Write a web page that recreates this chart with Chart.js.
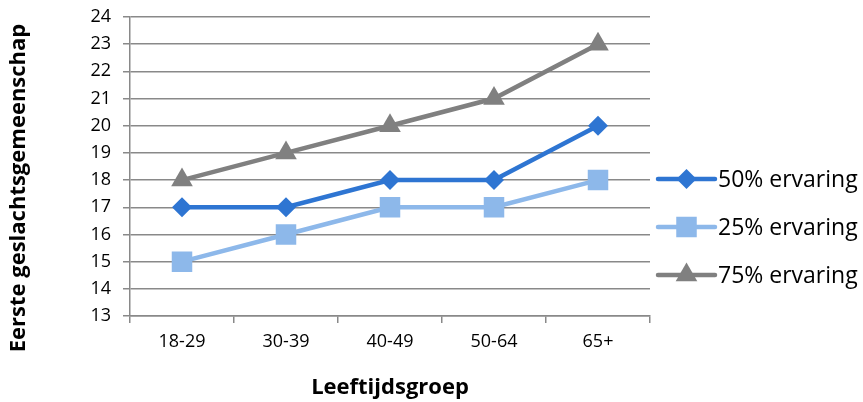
<!DOCTYPE html>
<html>
<head>
<meta charset="utf-8">
<script src="https://cdn.jsdelivr.net/npm/chart.js@4.4.1/dist/chart.umd.min.js"></script>
<style>
html,body{margin:0;padding:0;background:#fff;}
canvas{display:block;}
</style>
</head>
<body>
<canvas id="c" width="863" height="402"></canvas>
<script>
const categories = ['18-29', '30-39', '40-49', '50-64', '65+'];
const seriesNames = ['50% ervaring', '25% ervaring', '75% ervaring'];
const series50 = [17, 17, 18, 18, 20];
const series25 = [15, 16, 17, 17, 18];
const series75 = [18, 19, 20, 21, 23];
const yMin = 13, yMax = 24;
const xTitle = 'Leeftijdsgroep';
const yTitle = 'Eerste geslachtsgemeenschap';

const colors = ['#2E75D2', '#8DB8EA', '#808080'];
const styles = [
  {pointStyle: 'rectRot', radius: 10},
  {pointStyle: 'rect', radius: 14.5},
  {pointStyle: 'triangle', radius: 12.5}
];
const FONT = '"Open Sans", "Noto Sans", sans-serif';
const gridColor = '#898989';

function drawMarker(ctx, style, x, y) {
  const r = style.radius;
  ctx.beginPath();
  if (style.pointStyle === 'rectRot') {
    ctx.moveTo(x, y - r); ctx.lineTo(x + r, y); ctx.lineTo(x, y + r); ctx.lineTo(x - r, y);
  } else if (style.pointStyle === 'rect') {
    const s = Math.SQRT1_2 * r;
    ctx.rect(x - s, y - s, 2 * s, 2 * s);
  } else {
    const a = 2 * Math.PI / 3;
    ctx.moveTo(x, y - r);
    ctx.lineTo(x + Math.sin(a) * r, y - Math.cos(a) * r);
    ctx.lineTo(x + Math.sin(2 * a) * r, y - Math.cos(2 * a) * r);
  }
  ctx.closePath();
  ctx.fill();
}

const overlay = {
  id: 'overlay',
  afterDraw(chart) {
    const ctx = chart.ctx;
    const ca = chart.chartArea;
    ctx.save();
    // legend
    const legX0 = ca.right + 8, legX1 = ca.right + 65;
    const legY0 = 179, legStep = 48;
    chart.data.datasets.forEach((ds, i) => {
      const y = legY0 + i * legStep;
      ctx.strokeStyle = ds.borderColor;
      ctx.fillStyle = ds.borderColor;
      ctx.lineWidth = 4.5;
      ctx.lineCap = 'round';
      ctx.beginPath();
      ctx.moveTo(legX0, y); ctx.lineTo(legX1, y);
      ctx.stroke();
      drawMarker(ctx, styles[i], (legX0 + legX1) / 2, y);
      ctx.fillStyle = '#000';
      ctx.font = '23px ' + FONT;
      ctx.textAlign = 'left';
      ctx.textBaseline = 'middle';
      ctx.fillText(ds.label, legX1 + 3, y + 1);
    });
    // axis titles
    ctx.fillStyle = '#000';
    ctx.font = 'bold 22px ' + FONT;
    ctx.textAlign = 'center';
    ctx.textBaseline = 'middle';
    ctx.fillText(xTitle, (ca.left + ca.right) / 2, 388);
    ctx.translate(19, 188);
    ctx.rotate(-Math.PI / 2);
    ctx.fillText(yTitle, 0, 0);
    ctx.restore();
  }
};

const datasets = [series50, series25, series75].map((d, i) => ({
  label: seriesNames[i],
  data: d,
  borderColor: colors[i],
  backgroundColor: colors[i],
  borderWidth: 4.5,
  pointStyle: styles[i].pointStyle,
  pointRadius: styles[i].radius,
  pointHoverRadius: styles[i].radius,
  pointBorderWidth: 0,
  pointBackgroundColor: colors[i],
  tension: 0
}));

new Chart(document.getElementById('c'), {
  type: 'line',
  data: {labels: categories, datasets: datasets},
  options: {
    responsive: false,
    animation: false,
    devicePixelRatio: 1,
    layout: {padding: {left: 0, right: 213, top: 17, bottom: 0}},
    plugins: {legend: {display: false}, tooltip: {enabled: false}},
    scales: {
      x: {
        type: 'category',
        offset: true,
        grid: {offset: true, drawOnChartArea: false, drawTicks: true, tickLength: 7, color: gridColor, lineWidth: 1.5},
        border: {display: true, color: gridColor, width: 1.5},
        ticks: {color: '#000', font: {family: FONT, size: 18}, padding: 8, maxRotation: 0},
        afterFit(scale) { scale.height = 86; scale.paddingLeft = 0; scale.paddingRight = 0; }
      },
      y: {
        min: yMin, max: yMax,
        grid: {color: gridColor, lineWidth: 1.5, tickLength: 7, drawTicks: true},
        border: {display: true, color: gridColor, width: 1.5},
        ticks: {stepSize: 1, color: '#000', font: {family: FONT, size: 18}, padding: 12},
        afterFit(scale) { scale.width = 130; scale.paddingTop = 0; scale.paddingBottom = 0; }
      }
    }
  },
  plugins: [overlay]
});
</script>
</body>
</html>
